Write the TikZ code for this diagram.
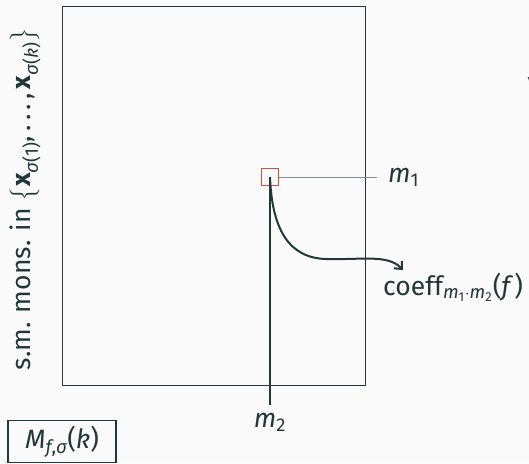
\documentclass[tikz,border=0pt]{standalone}
\usepackage{amsmath}
\usepackage{fontspec}
\setmainfont{Fira Sans}
\usetikzlibrary{arrows.meta}
\DeclareMathSizes{26.5}{26.5}{18.5}{13}
\definecolor{mtext}{HTML}{23373B}
\definecolor{mbg}{HTML}{FAFAFA}
\definecolor{mred}{HTML}{D0503F}
\newcommand{\vi}[1]{\text{\itshape #1}}
\begin{document}
\begin{tikzpicture}[x=1pt,y=-1pt,
  every node/.style={font=\fontsize{26.5}{32}\selectfont, text=mtext, inner sep=0pt},
  frame/.style={draw=mtext, line width=1.2pt},
  guide/.style={draw=mtext!55, line width=1pt},
  axisline/.style={draw=mtext, line width=1.2pt},
  flow/.style={draw=mtext, line width=2pt, -{Straight Barb[length=6pt,width=11pt]}},
  cell/.style={draw=mred, line width=1pt, minimum size=17pt},
  tag/.style={draw=mtext, line width=1.2pt, minimum width=108pt, minimum height=42pt}]
\useasboundingbox[fill=mbg] (0,0) rectangle (529,463);
\node[frame, minimum width=303pt, minimum height=379pt, anchor=north west] (grid) at (62,6) {};
\node[rotate=90] (ylab) at (25,199) {s.m. mons. in $\left\{\textbf{x}_{\vi{σ}\text{(1)}}\text{,}\,\text{.\,.\,.}\,\text{,}\,\textbf{x}_{\vi{σ}\text{(}\vi{k}\text{)}}\right\}$};
\node[cell] (sq) at (270,177) {};
\node[anchor=west] (m1) at (388,177) {$\vi{m}_{\text{1}}$};
\node (m2) at (270,422) {$\vi{m}_{\text{2}}$};
\coordinate (m2top) at (270,405);
\coordinate (tip) at (403,270);
\node[anchor=base west] (coeff) at (383,295) {coeff$_{\vi{m}_{\text{1}}\cdot\vi{m}_{\text{2}}}$(\vi{f}\,)};
\node[tag] (mlabel) at (62,441.5) {$\vi{M}_{\vi{f}\text{,}\vi{σ}}$(\vi{k})};
\draw[guide] (sq.east) -- (m1.west -| 377,0);
\draw[axisline] (sq.center) -- (m2top);
\draw[flow] (sq.center) .. controls (272,228) and (288,258) .. (326,259)
  .. controls (362,260) and (388,254) .. (tip);
\node[anchor=west] (cut1) at (527,47) {|};
\node[anchor=base west] (cut2) at (527.5,91) {v};
\node[anchor=base west] (cut3) at (527.5,130) {o};
\end{tikzpicture}
\end{document}
